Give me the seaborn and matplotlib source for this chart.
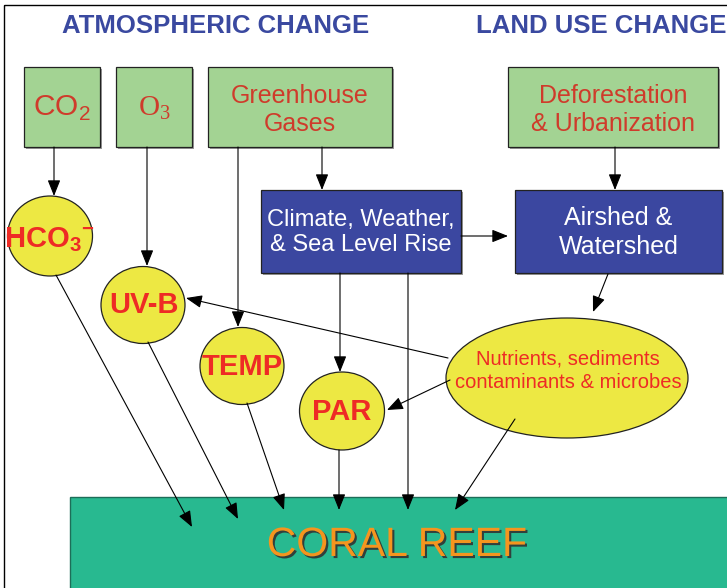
import matplotlib
matplotlib.use("Agg")
import matplotlib.pyplot as plt
import matplotlib.patheffects as pe
from matplotlib.patches import Rectangle, Ellipse
import seaborn as sns

# text content of the diagram
section_titles = ["ATMOSPHERIC CHANGE", "LAND USE CHANGE"]
driver_labels = ["CO$_2$", r"$\mathsf{O_3}$", "Greenhouse\nGases", "Deforestation\n& Urbanization"]
process_labels = ["Climate, Weather,\n& Sea Level Rise", "Airshed &\nWatershed"]
factor_labels = [r"$\mathbf{HCO_3{}^{-}}$", "UV-B", "TEMP", "PAR"]
source_label = "Nutrients, sediments\ncontaminants & microbes"
target_label = "CORAL REEF"

# links between nodes (from, to)
links = [
    ("CO2", "HCO3"), ("O3", "UVB"), ("GHG_a", "TEMP"), ("GHG_b", "CLIM"),
    ("DEF", "AIR"), ("CLIM", "AIR"), ("CLIM_a", "PAR"), ("AIR", "NUT"),
    ("NUT_a", "UVB"), ("NUT_b", "PAR"),
    ("HCO3", "REEF_1"), ("UVB", "REEF_2"), ("TEMP", "REEF_3"),
    ("PAR", "REEF_4"), ("CLIM_b", "REEF_5"), ("NUT_c", "REEF_6"),
]

# ---- layout (pixel space of a 727 x 588 canvas) ----
GREEN = "#A3D393"
BLUE = "#3B47A0"
YELLOW = "#EDE843"
TEAL = "#28B990"
BOX_RED = "#CF3B2B"
BRIGHT_RED = "#EE2B25"

driver_boxes = [(24, 67, 100, 147), (116, 67, 192, 147), (208, 67, 392, 147), (508, 67, 718, 147)]
driver_sizes = [21.5, 21, 18, 18]
driver_dy = [1, 1, 3, 3]
process_boxes = [(261, 190, 461, 273), (515, 190, 722, 273)]
process_sizes = [17, 18]
factor_ellipses = [(50, 236, 85, 80), (143, 305, 84, 77), (242, 366, 84, 77), (342, 411, 85, 78)]
factor_text_pos = [(49, 240), (144, 305), (242, 367), (342, 412)]
source_ellipse = (567, 378, 242, 120)

anchors = {
    "CO2": (54, 147), "HCO3": (54, 196),
    "O3": (147, 147), "UVB": (147, 266),
    "GHG_a": (238, 147), "TEMP": (238, 327),
    "GHG_b": (322, 147), "CLIM": (322, 190),
    "DEF": (615, 147), "AIR": (615, 190),
    "CLIM_a": (340, 273), "PAR": (340, 372),
    "CLIM_b": (408, 273),
}
# anchors that depend on the link direction
pair_anchor = {
    ("CLIM", "AIR"): ((461, 236), (508, 236)),
    ("AIR", "NUT"): ((608, 274), (593, 312)),
    ("NUT_a", "UVB"): ((448, 358), (186, 298)),
    ("NUT_b", "PAR"): ((450, 380), (387, 410)),
    ("HCO3", "REEF_1"): ((56, 275), (192, 527)),
    ("UVB", "REEF_2"): ((148, 342), (238, 519)),
    ("TEMP", "REEF_3"): ((247, 403), (284, 510)),
    ("PAR", "REEF_4"): ((339, 450), (339, 510)),
    ("CLIM_b", "REEF_5"): ((408, 273), (408, 510)),
    ("NUT_c", "REEF_6"): ((515, 419), (455, 510)),
}

sns.set_theme(style="white")
plt.rcParams["font.family"] = ["Liberation Sans", "DejaVu Sans"]
plt.rcParams["mathtext.fontset"] = "custom"
plt.rcParams["mathtext.rm"] = "Liberation Sans"
plt.rcParams["mathtext.bf"] = "Liberation Sans:bold"
plt.rcParams["mathtext.sf"] = "Liberation Serif"

fig = plt.figure(figsize=(7.27, 5.88), dpi=100)
ax = fig.add_axes([0, 0, 1, 1])
ax.set_xlim(0, 727)
ax.set_ylim(588, 0)
ax.axis("off")

# outer frame
ax.add_patch(Rectangle((4, 5), 900, 800, fill=False, ec="black", lw=1.0, zorder=1))

# titles
ax.text(216, 26, section_titles[0], ha="center", va="center", fontsize=18.5,
        fontweight="bold", color="#3A49A0")
ax.text(601, 26, section_titles[1], ha="center", va="center", fontsize=18.5,
        fontweight="bold", color="#3A49A0")

# coral reef
ax.add_patch(Rectangle((70, 497), 800, 200, fc=TEAL, ec="#1d6e58", lw=1.0, zorder=2))
ax.text(397, 545, target_label, ha="center", va="center", fontsize=29.5, color="#F5951E",
        zorder=6, path_effects=[pe.withSimplePatchShadow(offset=(1.5, -1.5),
                                                         shadow_rgbFace="#333333", alpha=0.9)])


def draw_box(box, face, label, color, size, dy=0):
    x0, y0, x1, y1 = box
    ax.add_patch(Rectangle((x0 + 1.5, y0 + 1.5), x1 - x0, y1 - y0, fc="#9a9a9a", ec="none", zorder=2))
    ax.add_patch(Rectangle((x0, y0), x1 - x0, y1 - y0, fc=face, ec="#222222", lw=0.9, zorder=3))
    ax.text((x0 + x1) / 2, (y0 + y1) / 2 + dy, label, ha="center", va="center", color=color,
            fontsize=size, linespacing=1.22, zorder=6)


for box, label, size, dy in zip(driver_boxes, driver_labels, driver_sizes, driver_dy):
    draw_box(box, GREEN, label, BOX_RED, size, dy)
for box, label, size in zip(process_boxes, process_labels, process_sizes):
    draw_box(box, BLUE, label, "white", size, 1)

for (cx, cy, w, h), label, (tx, ty) in zip(factor_ellipses, factor_labels, factor_text_pos):
    ax.add_patch(Ellipse((cx, cy), w, h, fc=YELLOW, ec="#222222", lw=0.9, zorder=4))
    ax.text(tx, ty, label, ha="center", va="center", color=BRIGHT_RED, fontsize=21,
            fontweight="bold", zorder=6)

cx, cy, w, h = source_ellipse
ax.add_patch(Ellipse((cx, cy), w, h, fc=YELLOW, ec="#222222", lw=0.9, zorder=4))
ax.text(cx + 1, cy - 7, source_label, ha="center", va="center", color=BRIGHT_RED,
        fontsize=14.5, linespacing=1.3, zorder=6)

# arrows
for a, b in links:
    if (a, b) in pair_anchor:
        start, end = pair_anchor[(a, b)]
    else:
        start, end = anchors[a], anchors[b]
    ax.annotate("", xy=end, xytext=start,
                arrowprops=dict(arrowstyle="-|>,head_length=0.7,head_width=0.28", color="black",
                                lw=0.8, shrinkA=0, shrinkB=0, mutation_scale=14),
                zorder=5)

fig.savefig("out.png", dpi=100)
